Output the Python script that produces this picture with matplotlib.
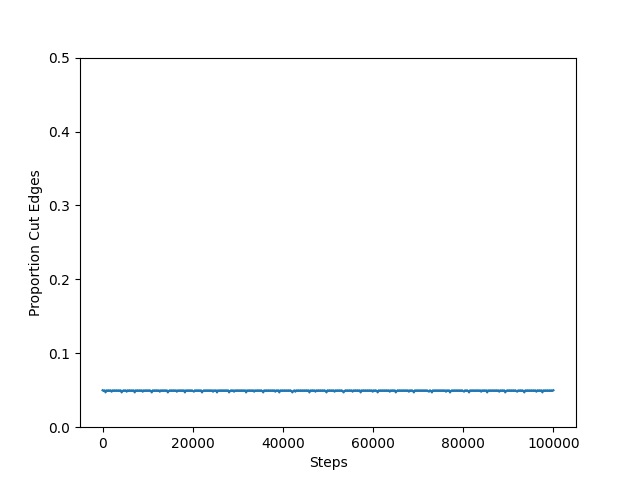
import numpy as np
import matplotlib
matplotlib.use("Agg")
import matplotlib.pyplot as plt

cut_proportion = [
    0.050, 0.049, 0.050, 0.047, 0.050, 0.049, 0.050, 0.049, 0.050, 0.048, 0.050, 0.049, 0.050, 0.049, 0.050,
    0.049, 0.050, 0.049, 0.050, 0.047, 0.049, 0.050, 0.049, 0.050, 0.048, 0.050, 0.049, 0.050, 0.049, 0.050,
    0.049, 0.050, 0.047, 0.050, 0.049, 0.050, 0.049, 0.050, 0.049, 0.050, 0.048, 0.050, 0.049, 0.050, 0.049,
    0.050, 0.049, 0.050, 0.049, 0.047, 0.050, 0.049, 0.050, 0.049, 0.050, 0.049, 0.050, 0.048, 0.050, 0.049,
    0.050, 0.049, 0.050, 0.049, 0.050, 0.047, 0.049, 0.050, 0.049, 0.050, 0.049, 0.050, 0.049, 0.050, 0.048,
    0.050, 0.049, 0.050, 0.049, 0.050, 0.049, 0.050, 0.047, 0.050, 0.049, 0.050, 0.049, 0.050, 0.049, 0.050,
    0.049, 0.048, 0.050, 0.049, 0.050, 0.049, 0.050, 0.049, 0.050, 0.047, 0.049, 0.050, 0.049, 0.050, 0.049,
    0.050, 0.049, 0.050, 0.049, 0.050, 0.048, 0.050, 0.049, 0.050, 0.047, 0.050, 0.049, 0.050, 0.049, 0.050,
    0.049, 0.050, 0.049, 0.050, 0.049, 0.050, 0.047, 0.049, 0.050, 0.049, 0.050, 0.048, 0.050, 0.049, 0.050,
    0.049, 0.050, 0.049, 0.050, 0.049, 0.050, 0.049, 0.050, 0.047, 0.050, 0.049, 0.050, 0.049, 0.050, 0.049,
    0.050, 0.048, 0.050, 0.049, 0.050, 0.049, 0.050, 0.049, 0.050, 0.049, 0.047, 0.050, 0.049, 0.050, 0.049,
    0.050, 0.049, 0.050, 0.049, 0.050, 0.049, 0.050, 0.048, 0.050, 0.049, 0.050, 0.047, 0.050, 0.049, 0.050,
    0.049, 0.050, 0.049, 0.050, 0.049, 0.050, 0.049, 0.050, 0.049, 0.047, 0.049, 0.050, 0.048, 0.050, 0.049,
    0.050, 0.049, 0.050, 0.049, 0.050, 0.049, 0.050, 0.049, 0.050, 0.049, 0.050, 0.047, 0.050, 0.049, 0.050,
    0.049, 0.050, 0.048, 0.050, 0.049, 0.050, 0.049, 0.050, 0.049, 0.050, 0.049, 0.050, 0.049, 0.047, 0.050,
    0.049, 0.050, 0.049, 0.050, 0.049, 0.050, 0.048, 0.050, 0.049, 0.050, 0.049, 0.050, 0.049, 0.050, 0.049,
    0.047, 0.049, 0.050, 0.049, 0.050, 0.049, 0.050, 0.049, 0.050, 0.048, 0.050, 0.049, 0.050, 0.049, 0.050,
    0.049, 0.050, 0.047, 0.050, 0.049, 0.050, 0.049, 0.050, 0.049, 0.050, 0.049, 0.050, 0.049, 0.050, 0.048,
    0.050, 0.049, 0.050, 0.049, 0.047, 0.050, 0.049, 0.050, 0.049, 0.050, 0.049, 0.050, 0.049, 0.050, 0.049,
    0.050, 0.048, 0.050, 0.049, 0.050, 0.049, 0.050, 0.047, 0.049, 0.050, 0.049, 0.050, 0.049, 0.050, 0.049,
    0.050, 0.049, 0.050, 0.049, 0.050, 0.048, 0.050, 0.049, 0.050, 0.049, 0.047, 0.050, 0.049, 0.050, 0.049,
    0.050, 0.049, 0.050, 0.049, 0.050, 0.049, 0.050, 0.049, 0.050, 0.049, 0.048, 0.050, 0.049, 0.047, 0.050,
    0.049, 0.050, 0.049, 0.050, 0.049, 0.050, 0.049, 0.050, 0.049, 0.050, 0.049, 0.050, 0.048, 0.050, 0.049,
    0.050, 0.047, 0.049, 0.050, 0.049, 0.050, 0.049, 0.050, 0.049, 0.050, 0.049, 0.050, 0.049, 0.050, 0.049,
    0.048, 0.050, 0.049, 0.050, 0.049, 0.047, 0.050, 0.049, 0.050, 0.049, 0.050, 0.049, 0.050, 0.049, 0.050,
    0.049, 0.050, 0.048, 0.050, 0.049, 0.050, 0.049, 0.050, 0.047, 0.050, 0.049, 0.050, 0.049, 0.050, 0.049,
    0.050, 0.049, 0.050, 0.049, 0.050, 0.048, 0.050, 0.049, 0.050, 0.049, 0.050, 0.047, 0.049, 0.050, 0.049,
    0.050, 0.049, 0.050, 0.049, 0.050, 0.049, 0.050, 0.049, 0.048, 0.050, 0.049, 0.050, 0.049, 0.050, 0.049,
    0.047, 0.050, 0.049, 0.050, 0.049, 0.050, 0.049, 0.050, 0.049, 0.050, 0.049, 0.050, 0.048, 0.050, 0.049,
    0.050, 0.049, 0.050, 0.047, 0.050, 0.049, 0.050, 0.049, 0.050, 0.049, 0.050, 0.049, 0.050, 0.049, 0.050,
]
max_step = 100000
steps = np.linspace(0, max_step, len(cut_proportion))

fig, ax = plt.subplots(figsize=(6.4, 4.8), dpi=100)
ax.plot(steps, cut_proportion, color="#1f77b4", linewidth=1.5)
ax.set_ylim(0, 0.5)
ax.set_xlabel("Steps")
ax.set_ylabel("Proportion Cut Edges")
fig.savefig("out.png", dpi=100)
